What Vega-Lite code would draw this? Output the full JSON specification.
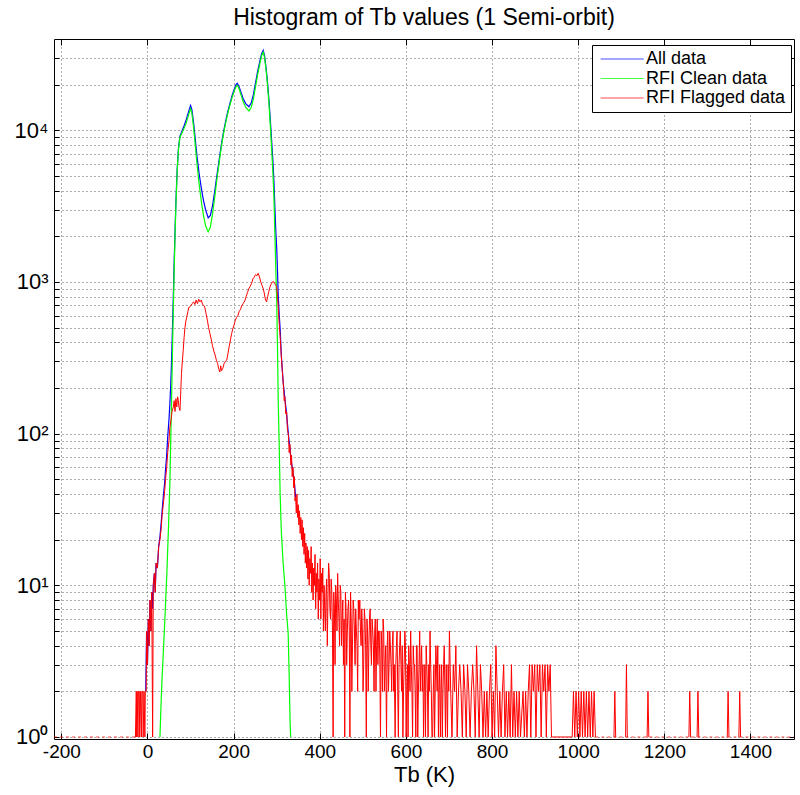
{
  "$schema": "https://vega.github.io/schema/vega-lite/v6.json",
  "width": 740,
  "height": 700,
  "autosize": "none",
  "padding": {"left": 54, "top": 39, "right": 6, "bottom": 56},
  "background": "white",
  "title": {"text": "Histogram of Tb values (1 Semi-orbit)", "font": "Liberation Sans", "fontSize": 23, "fontWeight": "normal", "color": "black", "offset": 9, "anchor": "middle"},
  "config": {"view": {"stroke": "black", "strokeWidth": 1}},
  "datasets": {
    "all": [
      {"x": -4, "y": 2}, {"x": -2, "y": 5}, {"x": 0, "y": 3}, {"x": 2, "y": 6}, {"x": 4, "y": 4}, {"x": 6, "y": 8}, {"x": 8, "y": 5}, {"x": 10, "y": 9}, {"x": 12, "y": 7}, {"x": 13.5, "y": 10}, {"x": 16, "y": 12}, {"x": 18, "y": 9}, {"x": 20, "y": 14}, {"x": 23, "y": 13}, {"x": 26, "y": 18}, {"x": 29, "y": 21}, {"x": 32, "y": 26}, {"x": 34, "y": 31}, {"x": 36.7, "y": 38}, {"x": 40, "y": 48}, {"x": 42, "y": 58}, {"x": 44.6, "y": 72}, {"x": 47, "y": 95}, {"x": 50, "y": 125}, {"x": 52, "y": 157}, {"x": 54, "y": 210}, {"x": 56, "y": 306}, {"x": 58, "y": 490}, {"x": 60, "y": 800}, {"x": 62, "y": 1365}, {"x": 64, "y": 2140}, {"x": 66, "y": 3370}, {"x": 69, "y": 5550}, {"x": 72, "y": 7650}, {"x": 75.4, "y": 9140}, {"x": 80, "y": 9870}, {"x": 85, "y": 10730}, {"x": 90, "y": 11760}, {"x": 95, "y": 13140}, {"x": 100, "y": 14600}, {"x": 103, "y": 13720}, {"x": 107, "y": 11240}, {"x": 111, "y": 8720}, {"x": 115, "y": 6730}, {"x": 120, "y": 5170}, {"x": 125, "y": 4160}, {"x": 130, "y": 3450}, {"x": 135, "y": 2990}, {"x": 141, "y": 2650}, {"x": 146, "y": 2750}, {"x": 151, "y": 3180}, {"x": 156, "y": 3940}, {"x": 161, "y": 5000}, {"x": 166, "y": 6270}, {"x": 171, "y": 7870}, {"x": 176, "y": 9570}, {"x": 181, "y": 11300}, {"x": 186, "y": 13130}, {"x": 191, "y": 14880}, {"x": 196, "y": 16770}, {"x": 201, "y": 18520}, {"x": 205, "y": 19850}, {"x": 208.4, "y": 20390}, {"x": 212, "y": 19630}, {"x": 217, "y": 17860}, {"x": 222, "y": 16220}, {"x": 228, "y": 15000}, {"x": 235.6, "y": 14290}, {"x": 241, "y": 15180}, {"x": 246, "y": 17250}, {"x": 251, "y": 20620}, {"x": 256, "y": 24620}, {"x": 261, "y": 28580}, {"x": 265, "y": 31950}, {"x": 268.7, "y": 33700}, {"x": 272, "y": 30820}, {"x": 276, "y": 24740}, {"x": 279, "y": 20300}, {"x": 282, "y": 15870}, {"x": 285, "y": 11940}, {"x": 288, "y": 8780}, {"x": 291, "y": 6410}, {"x": 293.5, "y": 4700}, {"x": 296, "y": 2980}, {"x": 298, "y": 2150}, {"x": 300, "y": 1690}, {"x": 302, "y": 1150}, {"x": 303.5, "y": 820}, {"x": 306, "y": 600}, {"x": 308, "y": 490}, {"x": 311, "y": 320}, {"x": 315, "y": 220}, {"x": 319, "y": 170}, {"x": 323, "y": 136}, {"x": 325, "y": 116}, {"x": 327, "y": 100}, {"x": 330.7, "y": 80}, {"x": 333, "y": 69}, {"x": 336, "y": 60}, {"x": 338, "y": 55}, {"x": 341, "y": 48}, {"x": 344, "y": 38}
    ],
    "clean": [
      {"x": 29, "y": 1}, {"x": 31, "y": 1.5}, {"x": 34, "y": 2.5}, {"x": 37, "y": 3.7}, {"x": 41, "y": 6.5}, {"x": 45, "y": 12}, {"x": 49, "y": 25}, {"x": 52, "y": 47}, {"x": 54, "y": 90}, {"x": 56, "y": 166}, {"x": 58, "y": 350}, {"x": 60, "y": 650}, {"x": 62, "y": 1200}, {"x": 64, "y": 2000}, {"x": 66, "y": 3200}, {"x": 69, "y": 5400}, {"x": 72, "y": 7500}, {"x": 75.4, "y": 9000}, {"x": 80, "y": 9600}, {"x": 85, "y": 10300}, {"x": 90, "y": 11200}, {"x": 95, "y": 12500}, {"x": 100, "y": 13900}, {"x": 103, "y": 13000}, {"x": 107, "y": 10500}, {"x": 111, "y": 8000}, {"x": 115, "y": 6000}, {"x": 120, "y": 4400}, {"x": 125, "y": 3400}, {"x": 130, "y": 2750}, {"x": 135, "y": 2350}, {"x": 141, "y": 2140}, {"x": 146, "y": 2300}, {"x": 151, "y": 2800}, {"x": 156, "y": 3600}, {"x": 161, "y": 4700}, {"x": 166, "y": 6000}, {"x": 171, "y": 7600}, {"x": 176, "y": 9300}, {"x": 181, "y": 11000}, {"x": 186, "y": 12800}, {"x": 191, "y": 14500}, {"x": 196, "y": 16300}, {"x": 201, "y": 18000}, {"x": 205, "y": 19300}, {"x": 208.4, "y": 19800}, {"x": 212, "y": 19000}, {"x": 217, "y": 17200}, {"x": 222, "y": 15500}, {"x": 228, "y": 14200}, {"x": 235.6, "y": 13400}, {"x": 241, "y": 14200}, {"x": 246, "y": 16200}, {"x": 251, "y": 19500}, {"x": 256, "y": 23500}, {"x": 261, "y": 27500}, {"x": 265, "y": 31000}, {"x": 268.7, "y": 32800}, {"x": 272, "y": 30000}, {"x": 276, "y": 24000}, {"x": 279, "y": 19500}, {"x": 282, "y": 15000}, {"x": 285, "y": 11000}, {"x": 288, "y": 7800}, {"x": 291, "y": 5400}, {"x": 293.5, "y": 3700}, {"x": 296, "y": 2000}, {"x": 298, "y": 1200}, {"x": 300, "y": 760}, {"x": 302, "y": 350}, {"x": 303.5, "y": 166}, {"x": 306, "y": 80}, {"x": 308, "y": 40}, {"x": 311, "y": 22}, {"x": 315, "y": 14}, {"x": 319, "y": 10}, {"x": 323, "y": 6.5}, {"x": 326.7, "y": 4.8}, {"x": 329, "y": 2.5}, {"x": 331, "y": 1.3}, {"x": 332.5, "y": 1}
    ],
    "flagged": [
      {"x": -28, "y": 1}, {"x": -26, "y": 2}, {"x": -25, "y": 1}, {"x": -24, "y": 2}, {"x": -22, "y": 1}, {"x": -21, "y": 2}, {"x": -19, "y": 2}, {"x": -18, "y": 1}, {"x": -16, "y": 2}, {"x": -14, "y": 1}, {"x": -13, "y": 2}, {"x": -11, "y": 2}, {"x": -10, "y": 1}, {"x": -8, "y": 2}, {"x": -6, "y": 1}, {"x": -5, "y": 2}, {"x": -3, "y": 2}, {"x": -2, "y": 5}, {"x": 0, "y": 3}, {"x": 2, "y": 6}, {"x": 4, "y": 4}, {"x": 6, "y": 8}, {"x": 8, "y": 5}, {"x": 10, "y": 9}, {"x": 12, "y": 1}, {"x": 13.5, "y": 10}, {"x": 16, "y": 12}, {"x": 18, "y": 9}, {"x": 20, "y": 14}, {"x": 23, "y": 13}, {"x": 26, "y": 18}, {"x": 29, "y": 20}, {"x": 32, "y": 24}, {"x": 34, "y": 29}, {"x": 36.7, "y": 34}, {"x": 40, "y": 42}, {"x": 42, "y": 50}, {"x": 44.6, "y": 60}, {"x": 47, "y": 75}, {"x": 50, "y": 90}, {"x": 52, "y": 110}, {"x": 55, "y": 125}, {"x": 57, "y": 140}, {"x": 60, "y": 150}, {"x": 62, "y": 165}, {"x": 64, "y": 140}, {"x": 66, "y": 170}, {"x": 68, "y": 150}, {"x": 70, "y": 175}, {"x": 71.5, "y": 166}, {"x": 73, "y": 150}, {"x": 75.4, "y": 142}, {"x": 77, "y": 180}, {"x": 79, "y": 250}, {"x": 81, "y": 300}, {"x": 83, "y": 354}, {"x": 85, "y": 430}, {"x": 87, "y": 500}, {"x": 89, "y": 550}, {"x": 91, "y": 585}, {"x": 94, "y": 640}, {"x": 96, "y": 680}, {"x": 98.6, "y": 685}, {"x": 101, "y": 700}, {"x": 104, "y": 720}, {"x": 107, "y": 740}, {"x": 110, "y": 710}, {"x": 113, "y": 760}, {"x": 116, "y": 720}, {"x": 119, "y": 770}, {"x": 122, "y": 740}, {"x": 125, "y": 760}, {"x": 128, "y": 710}, {"x": 131, "y": 700}, {"x": 133, "y": 685}, {"x": 136, "y": 620}, {"x": 139, "y": 560}, {"x": 142, "y": 500}, {"x": 145, "y": 457}, {"x": 148, "y": 420}, {"x": 151, "y": 380}, {"x": 154, "y": 350}, {"x": 157, "y": 330}, {"x": 160, "y": 305}, {"x": 163, "y": 290}, {"x": 165, "y": 270}, {"x": 168, "y": 255}, {"x": 170, "y": 280}, {"x": 172, "y": 260}, {"x": 175, "y": 270}, {"x": 178, "y": 290}, {"x": 181, "y": 300}, {"x": 184, "y": 305}, {"x": 187, "y": 340}, {"x": 190, "y": 380}, {"x": 193, "y": 420}, {"x": 195.4, "y": 457}, {"x": 198, "y": 490}, {"x": 201, "y": 520}, {"x": 204, "y": 560}, {"x": 207, "y": 585}, {"x": 210, "y": 600}, {"x": 213, "y": 640}, {"x": 216, "y": 660}, {"x": 219, "y": 700}, {"x": 222, "y": 720}, {"x": 226, "y": 750}, {"x": 229, "y": 800}, {"x": 232, "y": 850}, {"x": 235, "y": 900}, {"x": 238, "y": 930}, {"x": 241.8, "y": 980}, {"x": 245, "y": 1050}, {"x": 248, "y": 1080}, {"x": 251, "y": 1120}, {"x": 254, "y": 1100}, {"x": 257, "y": 1140}, {"x": 260, "y": 1080}, {"x": 263, "y": 1000}, {"x": 266, "y": 950}, {"x": 269, "y": 900}, {"x": 272, "y": 820}, {"x": 274, "y": 760}, {"x": 276.6, "y": 740}, {"x": 279, "y": 800}, {"x": 282, "y": 870}, {"x": 285, "y": 940}, {"x": 288, "y": 980}, {"x": 290, "y": 1000}, {"x": 292, "y": 1010}, {"x": 295, "y": 980}, {"x": 298, "y": 950}, {"x": 300, "y": 930}, {"x": 302, "y": 800}, {"x": 304, "y": 650}, {"x": 306, "y": 520}, {"x": 307.5, "y": 457}, {"x": 310, "y": 350}, {"x": 313, "y": 260}, {"x": 316, "y": 200}, {"x": 317.5, "y": 165}, {"x": 319, "y": 175}, {"x": 321, "y": 135}, {"x": 323, "y": 140}, {"x": 325, "y": 105}, {"x": 327, "y": 100}, {"x": 329, "y": 75}, {"x": 330.7, "y": 85}, {"x": 333, "y": 62}, {"x": 334.5, "y": 72}, {"x": 336, "y": 52}, {"x": 338, "y": 60}, {"x": 339.5, "y": 44}, {"x": 341, "y": 52}, {"x": 342.5, "y": 36}, {"x": 344, "y": 38},
      {"x": 345.5, "y": 30}, {"x": 347, "y": 40}, {"x": 348.5, "y": 28}, {"x": 350, "y": 34}, {"x": 351.5, "y": 25}, {"x": 353, "y": 31}, {"x": 354.5, "y": 22}, {"x": 356, "y": 28}, {"x": 357.5, "y": 20}, {"x": 359, "y": 27}, {"x": 360.5, "y": 18}, {"x": 362, "y": 24}, {"x": 363.5, "y": 16}, {"x": 365, "y": 22}, {"x": 366.5, "y": 14}, {"x": 368, "y": 19}, {"x": 369.5, "y": 13}, {"x": 371, "y": 18}, {"x": 372.5, "y": 11}, {"x": 374, "y": 17}, {"x": 375.5, "y": 10}, {"x": 377, "y": 15}, {"x": 378.5, "y": 12}, {"x": 380, "y": 18}, {"x": 381.5, "y": 9}, {"x": 383, "y": 14}, {"x": 384.5, "y": 8}, {"x": 386, "y": 13}, {"x": 387.5, "y": 10}, {"x": 389, "y": 16}, {"x": 390.5, "y": 7}, {"x": 392, "y": 12}, {"x": 393.5, "y": 9}, {"x": 395, "y": 14}, {"x": 396.5, "y": 6}, {"x": 398, "y": 11}, {"x": 399.5, "y": 8}, {"x": 401, "y": 15}, {"x": 402.5, "y": 6}, {"x": 404, "y": 12}, {"x": 405.5, "y": 9}, {"x": 407, "y": 13}, {"x": 408.5, "y": 5}, {"x": 410, "y": 10}, {"x": 411.5, "y": 7},
      {"x": 413, "y": 5}, {"x": 414.5, "y": 9}, {"x": 416, "y": 11}, {"x": 417.5, "y": 4}, {"x": 419, "y": 8}, {"x": 420.5, "y": 14}, {"x": 422, "y": 12}, {"x": 423.5, "y": 7}, {"x": 425, "y": 6}, {"x": 426.5, "y": 11}, {"x": 428, "y": 9}, {"x": 429.5, "y": 5}, {"x": 431, "y": 1}, {"x": 432.5, "y": 9}, {"x": 434, "y": 7}, {"x": 435.5, "y": 3}, {"x": 437, "y": 10}, {"x": 438.5, "y": 8}, {"x": 440, "y": 5}, {"x": 441.5, "y": 12}, {"x": 443, "y": 8}, {"x": 444.5, "y": 6}, {"x": 446, "y": 4}, {"x": 447.5, "y": 10}, {"x": 449, "y": 9}, {"x": 450.5, "y": 4}, {"x": 452, "y": 6}, {"x": 453.5, "y": 8}, {"x": 455, "y": 3}, {"x": 456.5, "y": 6}, {"x": 458, "y": 1}, {"x": 459.5, "y": 9}, {"x": 461, "y": 7}, {"x": 462.5, "y": 3}, {"x": 464, "y": 5}, {"x": 465.5, "y": 7}, {"x": 467, "y": 8}, {"x": 468.5, "y": 5}, {"x": 470, "y": 1}, {"x": 471.5, "y": 9}, {"x": 473, "y": 6}, {"x": 474.5, "y": 2}, {"x": 476, "y": 4}, {"x": 477.5, "y": 8}, {"x": 479, "y": 7}, {"x": 480.5, "y": 5}, {"x": 482, "y": 3}, {"x": 483.5, "y": 7}, {"x": 485, "y": 5}, {"x": 486.5, "y": 4}, {"x": 488, "y": 2}, {"x": 489.5, "y": 8}, {"x": 491, "y": 6}, {"x": 493, "y": 8}, {"x": 494.5, "y": 5}, {"x": 496, "y": 4}, {"x": 497.5, "y": 7}, {"x": 499, "y": 5}, {"x": 500.5, "y": 2}, {"x": 502, "y": 3}, {"x": 503.5, "y": 7}, {"x": 505, "y": 6}, {"x": 506.5, "y": 4}, {"x": 508, "y": 1}, {"x": 509.5, "y": 6}, {"x": 511, "y": 5}, {"x": 512.5, "y": 2}, {"x": 514, "y": 4}, {"x": 515.5, "y": 6}, {"x": 517, "y": 7}, {"x": 518.5, "y": 4}, {"x": 520, "y": 3}, {"x": 521.5, "y": 6}, {"x": 523, "y": 5}, {"x": 524.5, "y": 4}, {"x": 526, "y": 2}, {"x": 527.5, "y": 5}, {"x": 529, "y": 6}, {"x": 530.5, "y": 2}, {"x": 532, "y": 4}, {"x": 533.5, "y": 6}, {"x": 535, "y": 3}, {"x": 536.5, "y": 5}, {"x": 538, "y": 5}, {"x": 539.5, "y": 3}, {"x": 541, "y": 1}, {"x": 542.5, "y": 5}, {"x": 544, "y": 4}, {"x": 545.5, "y": 2}, {"x": 547, "y": 6}, {"x": 548.5, "y": 5}, {"x": 550, "y": 2}, {"x": 551.5, "y": 3}, {"x": 553, "y": 4}, {"x": 555, "y": 1}, {"x": 556.5, "y": 4}, {"x": 558, "y": 5}, {"x": 559.5, "y": 2}, {"x": 561, "y": 3}, {"x": 562.5, "y": 5}, {"x": 564, "y": 4}, {"x": 565.5, "y": 3}, {"x": 567, "y": 2}, {"x": 568.5, "y": 4}, {"x": 570, "y": 5}, {"x": 571.5, "y": 2}, {"x": 573, "y": 3}, {"x": 575, "y": 1}, {"x": 576.5, "y": 3}, {"x": 578, "y": 4}, {"x": 579.5, "y": 5}, {"x": 581, "y": 2}, {"x": 582.5, "y": 1}, {"x": 584, "y": 3}, {"x": 585.5, "y": 4}, {"x": 587, "y": 5}, {"x": 588.5, "y": 3}, {"x": 590, "y": 2}, {"x": 591.5, "y": 4}, {"x": 593, "y": 1}, {"x": 594.5, "y": 2}, {"x": 596, "y": 3}, {"x": 597.5, "y": 5}, {"x": 599, "y": 4}, {"x": 600.5, "y": 1}, {"x": 602, "y": 2}, {"x": 603.5, "y": 3}, {"x": 605, "y": 1}, {"x": 606.5, "y": 4}, {"x": 608, "y": 3}, {"x": 609.5, "y": 2}, {"x": 611, "y": 5}, {"x": 612.5, "y": 3}, {"x": 614, "y": 2}, {"x": 615.5, "y": 1}, {"x": 617, "y": 4}, {"x": 618.5, "y": 3}, {"x": 620, "y": 3}, {"x": 621.5, "y": 2}, {"x": 623, "y": 1}, {"x": 624.5, "y": 4}, {"x": 626, "y": 4}, {"x": 627.5, "y": 1}, {"x": 629, "y": 2}, {"x": 630.5, "y": 3}, {"x": 632, "y": 5}, {"x": 633.5, "y": 2}, {"x": 635, "y": 3}, {"x": 636.5, "y": 4}, {"x": 638, "y": 2}, {"x": 639.5, "y": 3}, {"x": 641, "y": 1}, {"x": 642.5, "y": 2}, {"x": 644, "y": 3}, {"x": 645.5, "y": 1}, {"x": 647, "y": 4}, {"x": 648.5, "y": 3}, {"x": 650, "y": 2}, {"x": 651.5, "y": 1}, {"x": 653, "y": 3}, {"x": 654.5, "y": 2}, {"x": 656, "y": 5}, {"x": 657.5, "y": 3}, {"x": 659, "y": 2}, {"x": 660.5, "y": 1}, {"x": 662, "y": 1}, {"x": 663.5, "y": 2}, {"x": 665, "y": 3}, {"x": 666.5, "y": 1}, {"x": 668, "y": 2}, {"x": 669.5, "y": 4}, {"x": 671, "y": 3}, {"x": 672.5, "y": 2}, {"x": 674, "y": 4}, {"x": 675.5, "y": 1}, {"x": 677, "y": 2}, {"x": 678.5, "y": 3}, {"x": 680, "y": 1}, {"x": 681.5, "y": 2}, {"x": 683, "y": 3}, {"x": 684.5, "y": 1}, {"x": 686, "y": 2}, {"x": 687.5, "y": 3}, {"x": 689, "y": 4}, {"x": 690.5, "y": 2}, {"x": 692, "y": 1}, {"x": 693.5, "y": 3}, {"x": 695, "y": 2}, {"x": 696.5, "y": 1}, {"x": 698, "y": 3}, {"x": 699.5, "y": 2},
      {"x": 701, "y": 5}, {"x": 704, "y": 2}, {"x": 707, "y": 1}, {"x": 710, "y": 3}, {"x": 713, "y": 2}, {"x": 716, "y": 4}, {"x": 719, "y": 1}, {"x": 722, "y": 2}, {"x": 725, "y": 3}, {"x": 728, "y": 2}, {"x": 731, "y": 1}, {"x": 734, "y": 3}, {"x": 737, "y": 2}, {"x": 740, "y": 1}, {"x": 743, "y": 3}, {"x": 746, "y": 2}, {"x": 749, "y": 1}, {"x": 752, "y": 2}, {"x": 755, "y": 3}, {"x": 758, "y": 2}, {"x": 761, "y": 1}, {"x": 764, "y": 4}, {"x": 767, "y": 2}, {"x": 770, "y": 1}, {"x": 773, "y": 3}, {"x": 776, "y": 2}, {"x": 779, "y": 1}, {"x": 782, "y": 2}, {"x": 785, "y": 1}, {"x": 788, "y": 2}, {"x": 791, "y": 1}, {"x": 794, "y": 2}, {"x": 797, "y": 3}, {"x": 800, "y": 1}, {"x": 803, "y": 2}, {"x": 806, "y": 1}, {"x": 809, "y": 4}, {"x": 812, "y": 2}, {"x": 815, "y": 1}, {"x": 818, "y": 2}, {"x": 821, "y": 1}, {"x": 824, "y": 2}, {"x": 827, "y": 3}, {"x": 830, "y": 1}, {"x": 833, "y": 2}, {"x": 836, "y": 1}, {"x": 839, "y": 2}, {"x": 842, "y": 1}, {"x": 845, "y": 3}, {"x": 848, "y": 1}, {"x": 851, "y": 2}, {"x": 854, "y": 1}, {"x": 857, "y": 2}, {"x": 860, "y": 1}, {"x": 863, "y": 2}, {"x": 866, "y": 1}, {"x": 872, "y": 2}, {"x": 875, "y": 1}, {"x": 878, "y": 2}, {"x": 881, "y": 1}, {"x": 884, "y": 2}, {"x": 887, "y": 3}, {"x": 890, "y": 1}, {"x": 893, "y": 3}, {"x": 896, "y": 2}, {"x": 899, "y": 3}, {"x": 902, "y": 1}, {"x": 905, "y": 3}, {"x": 908, "y": 2}, {"x": 911, "y": 3}, {"x": 914, "y": 1}, {"x": 917, "y": 3}, {"x": 920, "y": 2}, {"x": 923, "y": 3}, {"x": 926, "y": 1}, {"x": 929, "y": 3}, {"x": 932, "y": 2}, {"x": 935, "y": 3}, {"x": 938, "y": 1}, {"x": 986, "y": 1}, {"x": 989, "y": 2}, {"x": 992, "y": 1}, {"x": 995, "y": 2}, {"x": 998, "y": 1}, {"x": 1001, "y": 2}, {"x": 1004, "y": 1}, {"x": 1007, "y": 2}, {"x": 1010, "y": 1}, {"x": 1013, "y": 2}, {"x": 1016, "y": 1}, {"x": 1019, "y": 2}, {"x": 1022, "y": 1}, {"x": 1025, "y": 2}, {"x": 1028, "y": 1}, {"x": 1031, "y": 2}, {"x": 1034, "y": 1}, {"x": 1037, "y": 2}, {"x": 1040, "y": 1}, {"x": 1041, "y": null},
      {"x": 1083, "y": 1}, {"x": 1085, "y": 2}, {"x": 1087, "y": 1}, {"x": 1088, "y": null}, {"x": 1110, "y": 1}, {"x": 1112, "y": 3}, {"x": 1114, "y": 1}, {"x": 1115, "y": null}, {"x": 1160, "y": 1}, {"x": 1162, "y": 2}, {"x": 1164, "y": 1}, {"x": 1165, "y": null}, {"x": 1257, "y": 1}, {"x": 1259, "y": 2}, {"x": 1261, "y": 1}, {"x": 1262, "y": null}, {"x": 1276, "y": 1}, {"x": 1278, "y": 2}, {"x": 1280, "y": 1}, {"x": 1281, "y": null}, {"x": 1346, "y": 1}, {"x": 1348, "y": 2}, {"x": 1350, "y": 1}, {"x": 1351, "y": null}, {"x": 1373, "y": 1}, {"x": 1375, "y": 2}, {"x": 1377, "y": 1}
    ],
    "base": [{"x": -217, "y": 1}, {"x": -28, "y": 1}, {"x": -27, "y": null}, {"x": 1040, "y": 1}, {"x": 1501, "y": 1}]
  },
  "resolve": {"axis": {"x": "independent", "y": "independent"}},
  "layer": [
    {
      "data": {"name": "all"},
      "mark": {"type": "line", "strokeWidth": 1.2, "clip": true},
      "encoding": {
        "x": {"field": "x", "type": "quantitative", "scale": {"domain": [-217, 1501], "nice": false, "zero": false},
          "axis": {"orient": "bottom", "values": [-200, 0, 200, 400, 600, 800, 1000, 1200, 1400], "labelExpr": "'' + datum.value", "grid": true, "gridDash": [1, 3], "gridColor": "#333", "gridOpacity": 0.8, "domain": false, "tickSize": -6, "tickColor": "black", "labelPadding": 9, "labelFont": "Liberation Sans", "labelFontSize": 19, "labelColor": "black", "labelFlush": false, "labelOverlap": false, "title": "Tb (K)", "titleFont": "Liberation Sans", "titleFontSize": 22, "titleFontWeight": "normal", "titleColor": "black", "titlePadding": 3}},
        "y": {"field": "y", "type": "quantitative", "scale": {"type": "log", "domain": [0.97, 40000], "nice": false},
          "axis": {"orient": "left", "values": [1, 2, 3, 4, 5, 6, 7, 8, 9, 10, 20, 30, 40, 50, 60, 70, 80, 90, 100, 200, 300, 400, 500, 600, 700, 800, 900, 1000, 2000, 3000, 4000, 5000, 6000, 7000, 8000, 9000, 10000, 20000, 30000],
            "labelExpr": "datum.value == 1 ? '10⁰' : datum.value == 10 ? '10¹' : datum.value == 100 ? '10²' : datum.value == 1000 ? '10³' : datum.value == 10000 ? '10⁴' : ''",
            "grid": true, "gridDash": [1, 3], "gridColor": "#333", "gridOpacity": 0.8, "domain": false, "tickSize": -5, "tickColor": "black", "labelPadding": 11, "labelFont": "Liberation Sans", "labelFontSize": 22, "labelColor": "black", "labelFlush": false, "labelOverlap": false, "title": null}},
        "color": {"datum": "All data", "type": "nominal",
          "scale": {"domain": ["All data", "RFI Clean data", "RFI Flagged data"], "range": ["#0000ff", "#00ff00", "#ff0000"]},
          "legend": {"orient": "none", "legendX": 538, "legendY": 6, "title": null, "padding": 5, "strokeColor": "black", "fillColor": "white", "symbolType": "M-1,0H7", "symbolSize": 116, "symbolStrokeWidth": 1.2, "labelFont": "Liberation Sans", "labelFontSize": 18, "labelColor": "black", "labelOffset": 31, "rowPadding": 1.5, "cornerRadius": 0}}
      }
    },
    {
      "data": {"name": "clean"},
      "mark": {"type": "line", "strokeWidth": 1.2, "clip": true},
      "encoding": {
        "x": {"field": "x", "type": "quantitative", "axis": null},
        "y": {"field": "y", "type": "quantitative", "axis": null},
        "color": {"datum": "RFI Clean data", "type": "nominal"}
      }
    },
    {
      "data": {"name": "flagged"},
      "mark": {"type": "line", "strokeWidth": 1, "clip": true},
      "encoding": {
        "x": {"field": "x", "type": "quantitative", "axis": {"orient": "top", "values": [-200, 0, 200, 400, 600, 800, 1000, 1200, 1400], "grid": false, "labels": false, "domain": false, "tickSize": -6, "tickColor": "black", "title": null}},
        "y": {"field": "y", "type": "quantitative", "axis": {"orient": "right", "values": [1, 2, 3, 4, 5, 6, 7, 8, 9, 10, 20, 30, 40, 50, 60, 70, 80, 90, 100, 200, 300, 400, 500, 600, 700, 800, 900, 1000, 2000, 3000, 4000, 5000, 6000, 7000, 8000, 9000, 10000, 20000, 30000], "grid": false, "labels": false, "domain": false, "tickSize": -5, "tickColor": "black", "title": null}},
        "color": {"datum": "RFI Flagged data", "type": "nominal"}
      }
    },
    {
      "data": {"name": "base"},
      "mark": {"type": "line", "strokeWidth": 1, "strokeDash": [3, 3], "opacity": 0.7, "clip": true},
      "encoding": {
        "x": {"field": "x", "type": "quantitative", "axis": null},
        "y": {"field": "y", "type": "quantitative", "axis": null},
        "color": {"datum": "RFI Flagged data", "type": "nominal"}
      }
    }
  ]
}
